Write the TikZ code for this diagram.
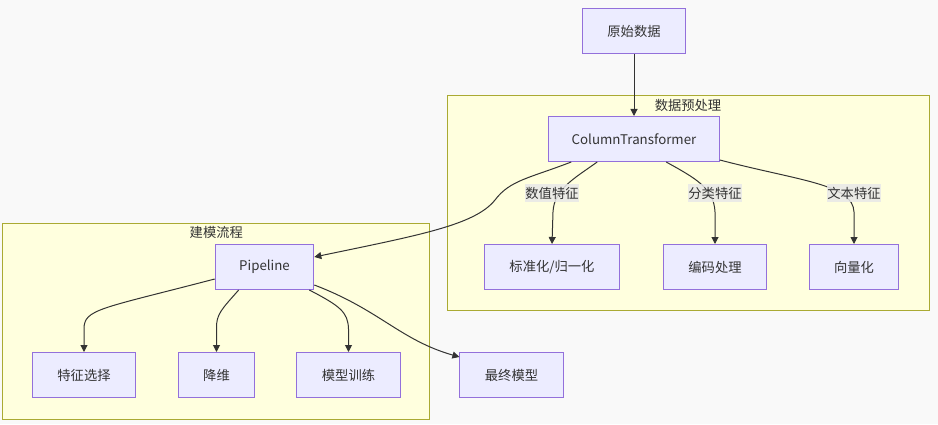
\documentclass[tikz,border=0pt]{standalone}
\usepackage{fontspec}
\setmainfont{Noto Sans CJK SC}
\usepackage{tikz}
\usetikzlibrary{arrows.meta,positioning,calc}

\definecolor{nodefill}{HTML}{ECECFF}
\definecolor{nodeline}{HTML}{9370DB}
\definecolor{clusterfill}{HTML}{FFFFDE}
\definecolor{clusterline}{HTML}{AAAA33}
\definecolor{edgecol}{HTML}{333333}
\definecolor{labelfill}{HTML}{E8E8E8}
\definecolor{bgcol}{HTML}{F9F9F9}

\begin{document}
\begin{tikzpicture}[x=1pt, y=1pt,
  font=\fontsize{13.3}{16}\selectfont, >={Triangle[length=7pt,width=7pt]},
  every node/.style={align=center, text=edgecol},
  box/.style={draw=nodeline, fill=nodefill, line width=1pt,
              minimum height=45pt, inner xsep=25pt},
  cluster/.style={draw=clusterline, fill=clusterfill, line width=1pt},
  ctitle/.style={anchor=north, inner xsep=1.5pt, inner ysep=4pt},
  arr/.style={->, draw=edgecol, line width=1pt},
  lbl/.style={fill=labelfill, fill opacity=0.85, text opacity=1,
              inner xsep=0pt, inner ysep=2.5pt}
]

%% Canvas
\useasboundingbox (0,0) rectangle (938,424);
\fill[bgcol] (0,0) rectangle (938,424);

%% Clusters
\node[cluster, minimum width=482pt, minimum height=215pt] (pre) at (688,220.7) {};
\node[ctitle] (pretitle) at (pre.north) {数据预处理};
\node[cluster, minimum width=427pt, minimum height=196pt] (model) at (216.3,102.9) {};
\node[ctitle] (modeltitle) at (model.north) {建模流程};

%% Top row
\node[box] (raw) at (634,393) {原始数据};
\node[box, inner xsep=23pt] (ct) at (634,285) {ColumnTransformer};

%% Preprocessing row (y=157)
\node[box] (norm) at (552,157) {标准化/归一化};
\node[box] (enc)  at (715,157) {编码处理};
\node[box] (vec)  at (854,157) {向量化};
\node[box, inner xsep=24pt] (pipe) at (264.5,157) {Pipeline};

%% Modelling row (y=49)
\node[box] (fsel)  at (84,49)    {特征选择};
\node[box] (dimr)  at (216.5,49) {降维};
\node[box] (train) at (348.5,49) {模型训练};
\node[box] (final) at (511.5,49) {最终模型};

%% Data into preprocessing
\draw[arr] (raw) -- (ct);

%% ColumnTransformer branches
\draw[arr] ($(ct.south west)+(49,0)$) .. controls (575,246) and (554,235) .. (553,212) -- (norm.north);
\draw[arr] ($(ct.south west)+(118,0)$) .. controls (695,246) and (714,236) .. (715,212) -- (enc.north);
\draw[arr] ($(ct.south east)+(0,2)$) .. controls (800,243) and (853,240) .. (854,212) -- (vec.north);
\draw[arr] ($(ct.south west)+(23,0)$) .. controls (530,246) and (510,244) .. (495,224)
      .. controls (475,199) and (420,189) .. ($(pipe.east)+(0,10)$);

%% Pipeline branches
\draw[arr] ($(pipe.south west)+(0,11)$) .. controls (100,115) and (84,115) .. (84,95) -- (fsel.north);
\draw[arr] ($(pipe.south west)+(24,0)$) .. controls (222,115) and (216,110) .. (216.5,95) -- (dimr.north);
\draw[arr] ($(pipe.south east)+(-5,0)$) .. controls (340,118) and (348,112) .. (348.5,95) -- (train.north);
\draw[arr] ($(pipe.south east)+(0,5)$) .. controls (380,114) and (400,84) .. ($(final.north west)+(0,-5)$);

%% Edge labels
\node[lbl] (lnum) at (552,231) {数值特征};
\node[lbl] (lcat) at (715,231) {分类特征};
\node[lbl] (ltxt) at (854,231) {文本特征};

\end{tikzpicture}
\end{document}
